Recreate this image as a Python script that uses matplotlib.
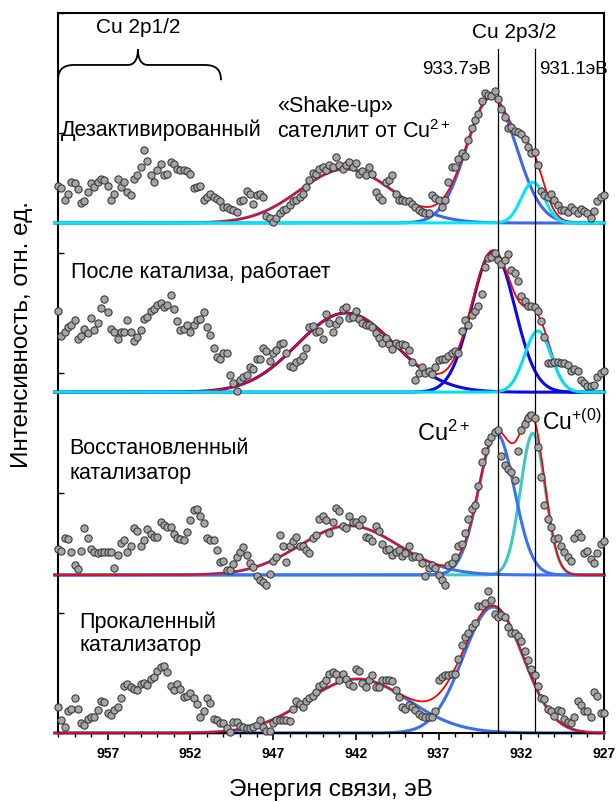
import numpy as np
import matplotlib
matplotlib.use("Agg")
import matplotlib.pyplot as plt
from matplotlib.path import Path
from matplotlib.patches import PathPatch
from matplotlib.ticker import MultipleLocator, FixedLocator

plt.rcParams['font.family'] = ['Liberation Sans', 'DejaVu Sans']
plt.rcParams['mathtext.fontset'] = 'custom'
plt.rcParams['mathtext.rm'] = 'Liberation Sans'
plt.rcParams['mathtext.it'] = 'Liberation Sans'

# ---------------- data ----------------
e_start, e_end = 960.0, 927.0   # binding energy range of the measured spectra (eV)

deactivated = [0.31,0.29,0.19,0.24,0.34,0.33,0.28,0.17,0.18,0.26,
 0.33,0.30,0.34,0.37,0.36,0.31,0.19,0.24,0.37,0.30,
 0.34,0.26,0.23,0.37,0.40,0.47,0.61,0.52,0.40,0.34,
 0.44,0.49,0.40,0.41,0.51,0.49,0.45,0.44,0.44,0.43,
 0.41,0.29,0.30,0.31,0.19,0.22,0.24,0.22,0.20,0.18,
 0.13,0.13,0.12,0.11,0.09,0.18,0.19,0.27,0.24,0.16,
 0.23,0.24,0.22,0.06,0.04,0.01,0.04,0.08,0.11,0.12,
 0.15,0.18,0.19,0.22,0.24,0.30,0.36,0.42,0.41,0.45,
 0.47,0.44,0.48,0.47,0.55,0.48,0.45,0.48,0.51,0.47,
 0.50,0.41,0.43,0.40,0.47,0.41,0.26,0.22,0.19,0.34,
 0.36,0.40,0.24,0.19,0.19,0.18,0.18,0.16,0.13,0.11,
 0.09,0.08,0.08,0.23,0.21,0.19,0.13,0.19,0.34,0.47,
 0.47,0.53,0.58,0.56,0.69,0.79,0.86,0.91,1.02,1.08,
 1.07,1.06,1.10,1.03,0.95,0.88,0.79,0.80,0.77,0.76,
 0.74,0.70,0.63,0.58,0.59,0.48,0.27,0.23,0.22,0.24,
 0.19,0.15,0.11,0.11,0.09,0.13,0.11,0.08,0.12,0.10,
 0.08,0.04,0.10,0.18,0.22,0.23]

after_catalysis = [0.68,0.47,0.50,0.54,0.56,0.60,0.44,0.47,0.53,0.49,
 0.62,0.52,0.58,0.70,0.78,0.67,0.53,0.50,0.44,0.50,
 0.50,0.60,0.50,0.43,0.46,0.52,0.61,0.63,0.68,0.69,
 0.73,0.74,0.71,0.73,0.81,0.69,0.59,0.52,0.53,0.56,
 0.50,0.56,0.60,0.61,0.67,0.54,0.48,0.37,0.29,0.28,
 0.33,0.33,0.14,0.08,0.01,0.10,0.13,0.14,0.21,0.19,
 0.28,0.28,0.37,0.34,0.26,0.33,0.35,0.40,0.41,0.33,
 0.22,0.21,0.25,0.27,0.30,0.37,0.54,0.55,0.50,0.51,
 0.44,0.65,0.58,0.50,0.57,0.60,0.69,0.71,0.62,0.63,
 0.68,0.61,0.58,0.56,0.56,0.54,0.49,0.45,0.41,0.45,
 0.40,0.36,0.41,0.39,0.40,0.39,0.35,0.25,0.10,0.16,
 0.21,0.16,0.18,0.15,0.21,0.27,0.28,0.28,0.30,0.33,
 0.34,0.33,0.51,0.60,0.56,0.64,0.68,0.72,0.82,1.04,
 1.12,1.13,1.16,1.10,1.07,1.10,1.15,1.02,0.99,0.93,
 0.80,0.76,0.72,0.72,0.71,0.68,0.59,0.46,0.24,0.24,
 0.25,0.25,0.24,0.24,0.23,0.18,0.19,0.18,0.10,0.08,
 0.05,0.05,0.06,0.13,0.16,0.18]

reduced = [0.22,0.20,0.31,0.30,0.19,0.08,0.05,0.20,0.39,0.31,
 0.22,0.19,0.18,0.19,0.19,0.19,0.19,0.06,0.17,0.27,
 0.29,0.19,0.24,0.39,0.37,0.24,0.29,0.38,0.34,0.32,
 0.32,0.44,0.42,0.40,0.40,0.34,0.31,0.30,0.29,0.36,
 0.46,0.54,0.55,0.49,0.43,0.31,0.29,0.29,0.21,0.11,
 0.12,0.04,0.04,0.09,0.15,0.19,0.23,0.17,0.10,0.07,
 -0.01,-0.04,-0.06,-0.08,0.01,0.12,0.15,0.33,0.24,0.11,
 0.24,0.28,0.32,0.24,0.24,0.21,0.18,0.31,0.33,0.47,
 0.49,0.46,0.35,0.44,0.56,0.53,0.41,0.39,0.49,0.44,
 0.44,0.42,0.47,0.32,0.31,0.28,0.41,0.37,0.26,0.21,
 0.22,0.17,0.19,0.21,0.16,0.18,0.24,0.15,0.16,0.15,
 0.10,-0.01,0.06,0.08,0.06,0.00,-0.04,-0.08,0.08,0.10,
 0.15,0.24,0.26,0.35,0.47,0.55,0.58,0.74,0.94,1.03,
 1.11,1.15,1.19,1.21,0.99,0.92,0.88,0.86,0.79,1.03,
 1.21,1.26,1.31,1.33,1.31,1.07,0.82,0.58,0.47,0.40,
 0.30,0.31,0.24,0.19,0.15,0.12,0.31,0.35,0.32,0.18,
 0.20,0.13,0.10,0.18,0.26,0.28]

calcined = [0.22,0.11,0.05,0.18,0.20,0.29,0.20,0.08,0.07,0.12,
 0.13,0.13,0.19,0.27,0.26,0.17,0.15,0.19,0.22,0.29,
 0.39,0.41,0.38,0.37,0.36,0.41,0.42,0.40,0.45,0.47,
 0.52,0.55,0.56,0.51,0.39,0.36,0.41,0.37,0.30,0.31,
 0.33,0.29,0.24,0.13,0.18,0.29,0.25,0.12,0.11,0.08,
 0.08,0.04,0.01,0.09,0.09,0.06,0.05,0.04,0.04,0.05,
 0.07,0.11,0.05,0.02,0.02,0.08,0.11,0.11,0.11,0.11,
 0.10,0.20,0.27,0.24,0.22,0.27,0.29,0.31,0.34,0.39,
 0.41,0.44,0.49,0.51,0.49,0.44,0.49,0.45,0.41,0.39,
 0.53,0.52,0.42,0.38,0.44,0.48,0.38,0.38,0.44,0.44,
 0.44,0.43,0.36,0.30,0.22,0.20,0.23,0.22,0.19,0.16,
 0.14,0.13,0.13,0.13,0.18,0.44,0.47,0.48,0.48,0.49,
 0.49,0.62,0.73,0.80,0.83,0.88,0.92,1.06,1.06,1.08,
 1.18,1.11,0.99,0.97,0.98,0.97,0.88,0.83,0.83,0.81,
 0.77,0.68,0.61,0.53,0.48,0.39,0.29,0.28,0.20,0.18,
 0.14,0.19,0.18,0.12,0.09,0.08,0.13,0.27,0.23,0.18,
 0.18,0.13,0.34,0.31,0.17,0.17]

# vertical offsets of the stacked spectra
offsets = [4.25, 2.84, 1.317, 0.0]

# Gaussian fit components: (center eV, amplitude, sigma)
sat_fit  = [(942.6, 0.45, 2.80), (942.6, 0.66, 2.93), (942.4, 0.41, 2.97), (941.9, 0.45, 3.07)]
cu2_fit  = [(933.8, 1.05, 1.50), (933.7, 1.175, 1.30), (933.5, 1.18, 1.08), (933.7, 1.05, 1.81)]
cu1_fit  = [(931.3, 0.34, 0.70), (931.0, 0.51, 0.80), (931.3, 1.18, 0.75), None]

blue_colors = ['#3F66EE', '#0A0AE6', '#3A72F0', '#3A6FF0']
cyan_colors = ['#00E8F8', '#00E0F0', '#3CC8C8', None]

ref_lines = [933.4, 931.2]
xticks = [957, 952, 947, 942, 937, 932, 927]

spectra = [deactivated, after_catalysis, reduced, calcined]

# ---------------- figure ----------------
fig = plt.figure(figsize=(6.16, 8.02), dpi=100)
ax = fig.add_axes([58/616, 1 - 733/802, (604-58)/616, (733-13)/802])

E = np.linspace(e_start, e_end, len(deactivated))
Ef = np.linspace(960.2, 927.0, 800)

def gauss(x, p):
    c, a, s = p
    return a * np.exp(-0.5 * ((x - c) / s) ** 2)

for i, (vals, off) in enumerate(zip(spectra, offsets)):
    g_sat = gauss(Ef, sat_fit[i])
    g_cu2 = gauss(Ef, cu2_fit[i])
    total = g_sat + g_cu2
    g_cu1 = None
    if cu1_fit[i] is not None:
        g_cu1 = gauss(Ef, cu1_fit[i])
        total = total + g_cu1
    bc = blue_colors[i]
    ax.plot(Ef, g_sat + off, color=bc, lw=2.2, zorder=2, clip_on=False)
    ax.plot(Ef, g_cu2 + off, color=bc, lw=2.2, zorder=2, clip_on=False)
    if i == 2:
        ax.plot(Ef, g_cu1 + off, color=cyan_colors[i], lw=2.2, zorder=1.5, clip_on=False)
        ax.plot(Ef, total + off, color='#FF0000', lw=1.3, zorder=3, clip_on=False)
    else:
        ax.plot(Ef, total + off, color='#FF0000', lw=1.3, zorder=3, clip_on=False)
        if g_cu1 is not None:
            ax.plot(Ef, g_cu1 + off, color=cyan_colors[i], lw=2.2, zorder=3.5, clip_on=False)
    ax.plot(E, np.array(vals) + off, 'o', ms=5.2, mfc='#A6A6A6', mec='#3C3C3C',
            mew=0.8, zorder=5, clip_on=False)

for xv in ref_lines:
    ax.plot([xv, xv], [0, 5.70], color='black', lw=0.9, zorder=4)

ax.set_xlim(960, 927)
ax.set_ylim(0, 6)
ax.xaxis.set_major_locator(FixedLocator(xticks))
ax.xaxis.set_minor_locator(MultipleLocator(1))
ax.yaxis.set_major_locator(MultipleLocator(1))
ax.set_yticklabels([])
ax.tick_params(axis='x', which='major', direction='out', length=5, width=1.2,
               labelsize=10, pad=5)
ax.tick_params(axis='x', which='minor', direction='out', length=3, width=1.0)
ax.tick_params(axis='y', which='major', direction='in', length=4, width=1.0)
for lab in ax.get_xticklabels():
    lab.set_fontweight('bold')
for sp in ax.spines.values():
    sp.set_linewidth(1.5)

ax.set_xlabel('Энергия связи, эВ', fontsize=17.5, labelpad=13)
fig.text(22/616, 1 - 335/802, 'Интенсивность, отн. ед.', rotation=90,
         fontsize=17.5, ha='center', va='center')

# annotations
fs = 15.5
ax.text(955.17, 5.88, 'Cu 2p1/2', fontsize=15, ha='center', va='center')
ax.text(932.4, 5.84, 'Cu 2p3/2', fontsize=15, ha='center', va='center')
ax.text(933.85, 5.525, '933.7эВ', fontsize=13.5, ha='right', va='center')
ax.text(930.95, 5.525, '931.1эВ', fontsize=13.5, ha='left', va='center')
ax.text(959.8, 5.025, 'Дезактивированный', fontsize=fs, ha='left', va='center')
ax.text(946.77, 5.22, '«Shake-up»', fontsize=fs, ha='left', va='center')
ax.text(946.77, 5.01, 'сателлит от Cu$^{2+}$', fontsize=fs, ha='left', va='center')
ax.text(959.2, 3.84, 'После катализа, работает', fontsize=fs, ha='left', va='center')
ax.text(959.3, 2.37, 'Восстановленный', fontsize=fs, ha='left', va='center')
ax.text(959.3, 2.16, 'катализатор', fontsize=fs, ha='left', va='center')
ax.text(938.3, 2.50, 'Cu$^{2+}$', fontsize=17, ha='left', va='center')
ax.text(930.75, 2.59, 'Cu$^{+(0)}$', fontsize=16.5, ha='left', va='center')
ax.text(958.7, 0.925, 'Прокаленный', fontsize=fs, ha='left', va='center')
ax.text(958.7, 0.733, 'катализатор', fontsize=fs, ha='left', va='center')

# curly brace over Cu 2p1/2 region
yb, yh, yt = 5.44, 5.567, 5.70
xl, xm, xr = 960.0, 955.17, 950.15
verts = [(xl, yb), (xl, yb + 0.1), (xl - 0.4, yh), (xl - 1.0, yh),
         (xm + 0.6, yh),
         (xm + 0.25, yh), (xm, yh + 0.04), (xm, yt),
         (xm, yh + 0.04), (xm - 0.25, yh), (xm - 0.6, yh),
         (xr + 1.0, yh),
         (xr + 0.4, yh), (xr, yb + 0.1), (xr, yb)]
codes = [Path.MOVETO, Path.CURVE4, Path.CURVE4, Path.CURVE4,
         Path.LINETO,
         Path.CURVE4, Path.CURVE4, Path.CURVE4,
         Path.CURVE4, Path.CURVE4, Path.CURVE4,
         Path.LINETO,
         Path.CURVE4, Path.CURVE4, Path.CURVE4]
ax.add_patch(PathPatch(Path(verts, codes), fill=False, lw=1.3, color='black', clip_on=False))

fig.savefig('out.png', dpi=100)
